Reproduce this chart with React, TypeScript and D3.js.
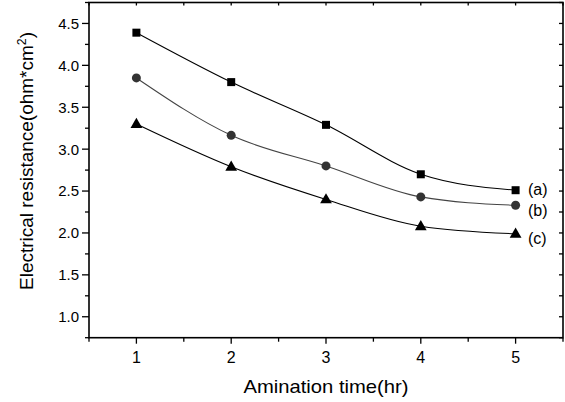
import React from "react";
import * as d3 from "d3";

const times = [1, 2, 3, 4, 5];
const seriesA = [4.39, 3.8, 3.29, 2.7, 2.51];
const seriesB = [3.85, 3.165, 2.8, 2.43, 2.33];
const seriesC = [3.3, 2.79, 2.4, 2.08, 1.99];
const seriesLabels = ["(a)", "(b)", "(c)"];
const xTickValues = [1, 2, 3, 4, 5];
const yTickValues = [1.0, 1.5, 2.0, 2.5, 3.0, 3.5, 4.0, 4.5];

const W = 565;
const H = 402;
const m = { left: 89, right: 563, top: 2.5, bottom: 337.7 };

export default function App() {
  const x = d3.scaleLinear().domain([0.5, 5.5]).range([m.left, m.right]);
  const y = d3.scaleLinear().domain([0.75, 4.75]).range([m.bottom, m.top]);
  const line = d3
    .line<number>()
    .x((_, i) => x(times[i]))
    .y((d) => y(d))
    .curve(d3.curveMonotoneX);

  const xMinor = d3.range(0.5, 5.51, 0.5);
  const yMinor = d3.range(0.75, 4.751, 0.25);
  const font = "Arial, 'Liberation Sans', sans-serif";

  const series = [
    { data: seriesA, color: "#000", marker: "square", stroke: "#000" },
    { data: seriesB, color: "#333", marker: "circle", stroke: "#444" },
    { data: seriesC, color: "#000", marker: "triangle", stroke: "#000" },
  ];
  const labelDy = [-1, 5, 5];

  const marker = (type: string, cx: number, cy: number, color: string, key: string) => {
    if (type === "square")
      return <rect key={key} x={cx - 4} y={cy - 4} width={8} height={8} fill={color} />;
    if (type === "circle") return <circle key={key} cx={cx} cy={cy} r={4.5} fill={color} />;
    const p = d3.symbol(d3.symbolTriangle, 60)();
    return <path key={key} d={p || ""} transform={`translate(${cx},${cy + 0.5})`} fill={color} />;
  };

  return (
    <svg
      width={W}
      height={H}
      style={{ position: "absolute", left: 0, top: 0, background: "#fff" }}
      fontFamily={font}
    >
      <rect x={0} y={0} width={W} height={H} fill="#fff" />
      {/* minor ticks x bottom */}
      {xMinor.map((v) => {
        const major = Math.abs(v - Math.round(v)) < 1e-6;
        return (
          <g key={"xb" + v}>
            <line x1={x(v)} x2={x(v)} y1={m.bottom} y2={m.bottom + (major ? 6 : 4)} stroke="#000" strokeWidth={1.3} />
            <line x1={x(v)} x2={x(v)} y1={m.top} y2={m.top + 3} stroke="#000" strokeWidth={1.3} />
          </g>
        );
      })}
      {yMinor.map((v) => {
        const major = Math.abs(v * 2 - Math.round(v * 2)) < 1e-6;
        return (
          <g key={"yl" + v}>
            <line x1={m.left - (major ? 7 : 4)} x2={m.left} y1={y(v)} y2={y(v)} stroke="#000" strokeWidth={1.3} />
            <line x1={m.right - 4} x2={m.right} y1={y(v)} y2={y(v)} stroke="#000" strokeWidth={1.3} />
          </g>
        );
      })}
      {/* frame */}
      <rect
        x={m.left}
        y={m.top}
        width={m.right - m.left}
        height={m.bottom - m.top}
        fill="none"
        stroke="#000"
        strokeWidth={1.6}
      />
      {/* tick labels */}
      {xTickValues.map((v) => (
        <text key={"xt" + v} x={x(v)} y={363} textAnchor="middle" fontSize={16} fill="#000">
          {v}
        </text>
      ))}
      {yTickValues.map((v) => (
        <text key={"yt" + v} x={79} y={y(v)} dy="0.36em" textAnchor="end" fontSize={15} fill="#000">
          {v.toFixed(1)}
        </text>
      ))}
      {/* axis titles */}
      <text x={326} y={393} textAnchor="middle" fontSize={18.5} textLength={165} lengthAdjust="spacingAndGlyphs">
        Amination time(hr)
      </text>
      <text
        transform="translate(33,161) rotate(-90)"
        textAnchor="middle"
        fontSize={18.5}
        textLength={258}
        lengthAdjust="spacingAndGlyphs"
      >
        Electrical resistance(ohm*cm<tspan dy={-7} fontSize={12}>2</tspan>
        <tspan dy={7}>)</tspan>
      </text>
      {/* series */}
      {series.map((s, si) => (
        <g key={"s" + si}>
          <path d={line(s.data) || ""} fill="none" stroke={s.stroke} strokeWidth={1.1} />
          {s.data.map((v, i) => marker(s.marker, x(times[i]), y(v), s.color, `m${si}-${i}`))}
          <text
            x={528}
            y={y(s.data[s.data.length - 1]) + labelDy[si]}
            dy="0.35em"
            fontSize={16}
            fill="#000"
          >
            {seriesLabels[si]}
          </text>
        </g>
      ))}
    </svg>
  );
}
